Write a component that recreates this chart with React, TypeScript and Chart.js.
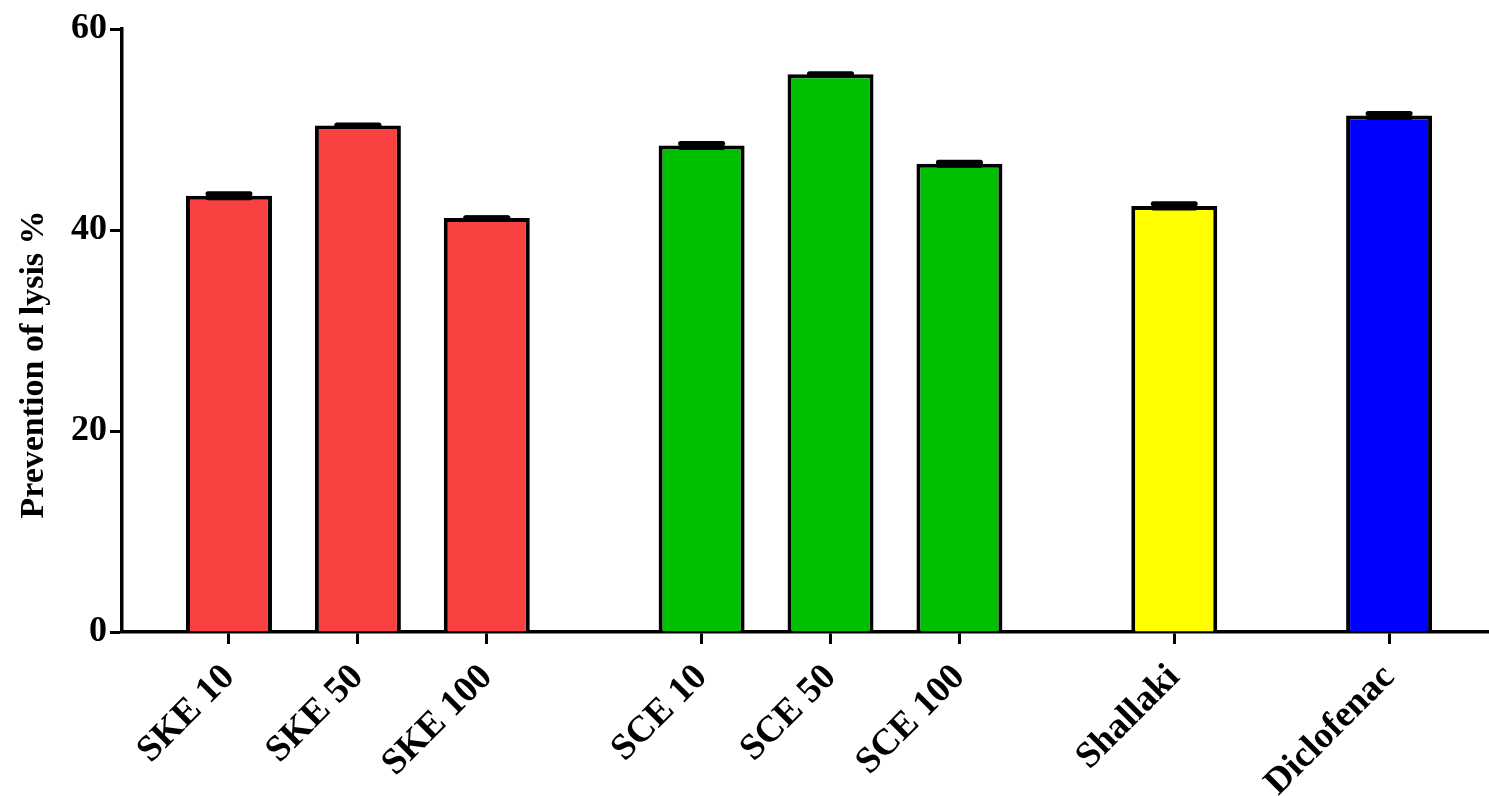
import React, { useEffect, useRef } from "react";
import { Chart, registerables } from "chart.js";

Chart.register(...registerables);

// Treatments, grouped by extract
const labels = ["SKE 10", "SKE 50", "SKE 100", "SCE 10", "SCE 50", "SCE 100", "Shallaki", "Diclofenac"];
const groupOf = [0, 0, 0, 1, 1, 1, 2, 3];
// Mean prevention of lysis (%) and SEM
const means = [43.4, 50.4, 41.2, 48.4, 55.5, 46.6, 42.4, 51.4];
const sems = [0.2, 0.05, 0.01, 0.2, 0.05, 0.15, 0.2, 0.2];
const groupColors = ["#F94141", "#00BF00", "#FFFF00", "#0000FF"];
const yTicks = [0, 20, 40, 60];
const yTitleText = "Prevention of lysis %";

const GROUP_GAP = 2 / 3;
const positions = labels.map((_, i) => i + groupOf[i] * GROUP_GAP);

const FONT = "'Liberation Serif', 'Times New Roman', serif";

// Mean ± SEM whiskers with caps, drawn over the bars
const errorBars = {
  id: "errorBars",
  afterDatasetsDraw(chart: any) {
    const meta = chart.getDatasetMeta(0);
    const yScale = chart.scales.y;
    const ctx = chart.ctx;
    ctx.save();
    ctx.strokeStyle = "#000";
    ctx.lineCap = "round";
    meta.data.forEach((bar: any, i: number) => {
      const yHi = yScale.getPixelForValue(means[i] + sems[i]);
      const yLo = yScale.getPixelForValue(means[i] - sems[i]);
      ctx.lineWidth = 3;
      ctx.beginPath();
      ctx.moveTo(bar.x, yLo);
      ctx.lineTo(bar.x, yHi);
      ctx.stroke();
      ctx.lineWidth = 5;
      for (const y of [yHi, yLo]) {
        ctx.beginPath();
        ctx.moveTo(bar.x - 21, y);
        ctx.lineTo(bar.x + 21, y);
        ctx.stroke();
      }
    });
    ctx.restore();
  },
};

// Rotated y-axis title, set a little below the middle of the plot
const yAxisTitle = {
  id: "yAxisTitle",
  afterDraw(chart: any) {
    const { ctx, chartArea } = chart;
    ctx.save();
    ctx.translate(34, (chartArea.top + chartArea.bottom) / 2 + 34);
    ctx.rotate(-Math.PI / 2);
    ctx.font = `bold 34px ${FONT}`;
    ctx.fillStyle = "#000";
    ctx.textAlign = "center";
    ctx.textBaseline = "middle";
    ctx.fillText(yTitleText, 0, 0);
    ctx.restore();
  },
};

export default function App() {
  const canvasRef = useRef<HTMLCanvasElement | null>(null);

  useEffect(() => {
    if (!canvasRef.current) return;
    const chart = new Chart(canvasRef.current, {
      type: "bar",
      data: {
        datasets: [
          {
            data: positions.map((x, i) => ({ x, y: means[i] })),
            backgroundColor: labels.map((_, i) => groupColors[groupOf[i]]),
            borderColor: "#000",
            borderWidth: 4,
            barPercentage: 0.667,
            categoryPercentage: 1,
          },
        ],
      },
      options: {
        animation: false,
        responsive: true,
        maintainAspectRatio: false,
        layout: { padding: { top: 29, right: 0, bottom: 0, left: 0 } },
        plugins: { legend: { display: false }, tooltip: { enabled: false } },
        scales: {
          x: {
            type: "linear",
            min: -0.83,
            max: 9.775,
            offset: false,
            afterBuildTicks: (scale: any) => {
              scale.ticks = positions.map((v) => ({ value: v }));
            },
            afterFit: (scale: any) => {
              scale.height = 164;
            },
            ticks: {
              autoSkip: false,
              minRotation: 45,
              maxRotation: 45,
              padding: 12,
              color: "#000",
              font: { family: FONT, size: 37, weight: "bold" },
              callback: (_v: any, index: number) => labels[index],
            },
            grid: {
              drawOnChartArea: false,
              offset: false,
              tickLength: 12,
              tickWidth: 3,
              tickColor: "#000",
            },
            border: { color: "#000", width: 3.5 },
          },
          y: {
            type: "linear",
            min: 0,
            max: 60,
            afterBuildTicks: (scale: any) => {
              scale.ticks = yTicks.map((v) => ({ value: v }));
            },
            afterFit: (scale: any) => {
              scale.width = 122;
            },
            ticks: {
              padding: 3,
              color: "#000",
              font: { family: FONT, size: 36, weight: "bold" },
            },
            grid: {
              drawOnChartArea: false,
              tickLength: 12,
              tickWidth: 3,
              tickColor: "#000",
            },
            border: { color: "#000", width: 3.5 },
          },
        },
      },
      plugins: [errorBars, yAxisTitle],
    } as any);
    return () => chart.destroy();
  }, []);

  return (
    <div style={{ position: "fixed", left: 0, top: 0, width: 1489, height: 796, background: "#fff" }}>
      <canvas ref={canvasRef} />
    </div>
  );
}
